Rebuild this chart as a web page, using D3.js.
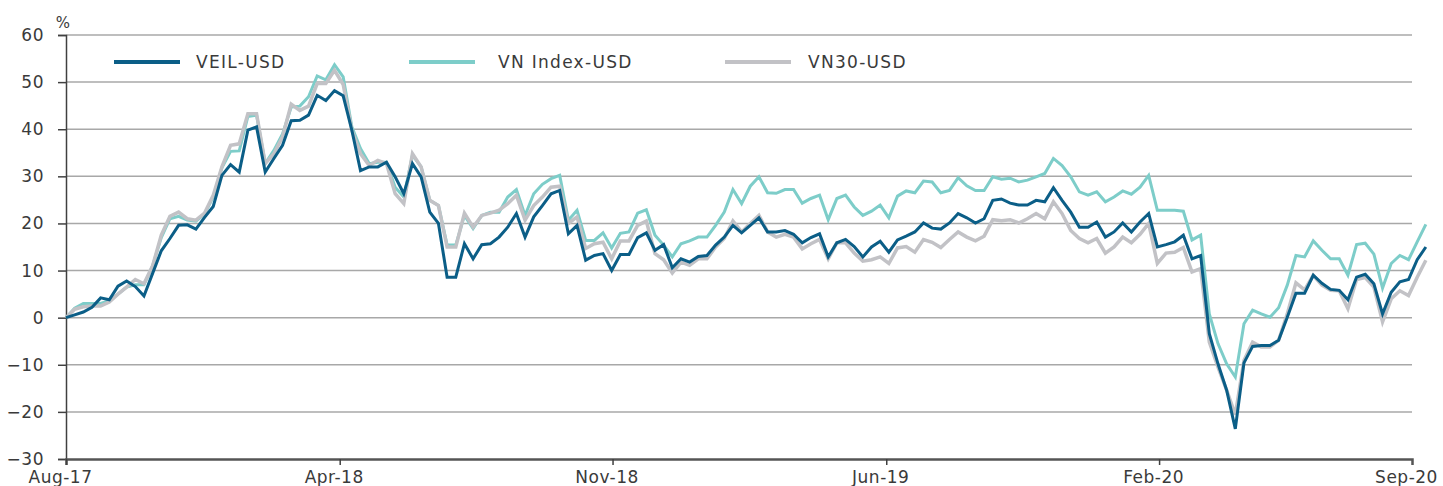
<!DOCTYPE html>
<html>
<head>
  <meta charset="utf-8">
  <script src="https://d3js.org/d3.v7.min.js"></script>
  <style>
    body { margin: 0; background: #fff; }
    text { font-family: "DejaVu Sans", sans-serif; fill: #3a3a3a; }
  </style>
</head>
<body>
  <svg id="chart" width="1443" height="486"></svg>

  <script>
    // weekly cumulative returns, %
    const veil = [
      0, 0.6, 1.2, 2.2, 4.2, 3.8, 6.7, 7.8, 6.6, 4.6,
      9.4, 14.2, 16.8, 19.6, 19.7, 18.8, 21.3, 23.6, 30.2, 32.5,
      30.9, 39.8, 40.5, 30.9, 33.8, 36.6, 41.8, 41.9, 43.0, 47.2,
      46.1, 48.2, 47.1, 39.8, 31.2, 32.0, 32.0, 33.0, 29.9, 26.3,
      32.7, 29.9, 22.4, 20.0, 8.6, 8.6, 15.7, 12.5, 15.5, 15.7,
      17.1, 19.2, 22.1, 17.1, 21.4, 23.8, 26.3, 27.0, 17.8, 19.6,
      12.2, 13.2, 13.6, 10.0, 13.4, 13.4, 17.0, 18.0, 14.3, 15.5,
      10.6, 12.5, 11.8, 13.0, 13.2, 15.4, 17.1, 19.6, 18.0, 19.6,
      21.2, 18.2, 18.2, 18.5, 17.7, 15.9, 17.0, 17.8, 12.9, 15.9,
      16.6, 15.1, 12.9, 15.0, 16.2, 13.9, 16.5, 17.3, 18.2, 20.1,
      19.0, 18.8, 20.1, 22.1, 21.2, 20.1, 21.0, 24.9, 25.2, 24.3,
      23.9, 23.9, 24.9, 24.6, 27.6, 24.9, 22.4, 19.2, 19.2, 20.3,
      17.1, 18.2, 20.1, 18.2, 20.3, 22.1, 15.0, 15.5, 16.1, 17.5,
      12.5, 13.2, -3.4, -9.8, -15.4, -23.6, -9.6, -6.1, -5.9, -5.9,
      -4.8, 0.1, 5.2, 5.2, 9.0, 7.3, 6.0, 5.8, 3.8, 8.6,
      9.2, 7.2, 0.8, 5.4, 7.6, 8.1, 12.3, 15.0
    ];
    const vnIndex = [
      0, 2.0, 3.0, 3.0, 3.0, 3.6, 5.0, 6.5, 7.0, 7.0,
      11.0, 17.0, 21.0, 21.5, 20.7, 20.5, 22.0, 25.6, 31.8, 35.3,
      35.4, 42.7, 43.0, 32.7, 35.5, 39.0, 44.7, 44.9, 46.9, 51.3,
      50.5, 53.7, 51.1, 40.5, 35.9, 32.7, 33.0, 33.0, 27.7, 25.6,
      34.5, 32.0, 24.9, 23.8, 15.4, 15.4, 21.7, 18.9, 21.7, 22.4,
      22.4, 25.6, 27.2, 21.7, 26.3, 28.3, 29.5, 30.2, 20.7, 22.8,
      16.4, 16.4, 18.0, 14.8, 17.9, 18.2, 22.2, 22.9, 17.5, 15.4,
      12.9, 15.7, 16.3, 17.1, 17.1, 19.6, 22.4, 27.2, 24.2, 27.9,
      29.9, 26.5, 26.4, 27.2, 27.2, 24.3, 25.3, 26.0, 20.8, 25.3,
      26.0, 23.5, 21.7, 22.6, 23.9, 21.2, 25.8, 26.9, 26.5, 29.0,
      28.8, 26.5, 27.0, 29.7, 28.0, 27.0, 27.0, 29.9, 29.4, 29.6,
      28.8, 29.2, 29.9, 30.6, 33.8, 32.3, 29.9, 26.7, 26.0, 26.7,
      24.6, 25.6, 26.9, 26.2, 27.7, 30.2, 22.8, 22.8, 22.8, 22.6,
      16.5, 17.5, 0.8, -5.5, -9.8, -12.6, -1.3, 1.6, 0.8, 0.1,
      2.1, 6.9, 13.2, 12.9, 16.3, 14.3, 12.5, 12.5, 9.0, 15.5,
      15.8, 13.5, 6.3, 11.5, 13.2, 12.3, 16.1, 19.8
    ];
    const vn30 = [
      0, 1.8, 2.3, 2.5, 2.5, 3.3, 5.0, 6.5, 8.1, 7.2,
      11.0, 17.5, 21.5, 22.4, 21.0, 20.7, 22.2, 26.0, 32.0, 36.6,
      36.9, 43.3, 43.3, 32.7, 34.8, 38.4, 45.3, 44.0, 44.9, 49.7,
      49.7, 52.5, 49.5, 39.8, 34.8, 32.3, 33.4, 32.7, 26.3, 24.2,
      34.8, 32.0, 24.9, 23.8, 15.0, 15.0, 22.2, 19.2, 21.7, 22.2,
      22.8, 24.2, 26.0, 20.7, 23.8, 25.6, 27.7, 27.9, 20.0, 21.4,
      14.7, 15.7, 16.0, 12.5, 16.3, 16.3, 19.6, 20.5, 13.6, 12.3,
      9.5, 11.8, 11.1, 12.5, 12.5, 15.0, 16.8, 20.5, 18.2, 20.0,
      21.7, 18.2, 17.1, 17.7, 17.1, 14.6, 15.7, 16.6, 12.5, 15.9,
      15.9, 13.7, 12.0, 12.3, 12.9, 11.5, 14.8, 15.1, 13.9, 16.6,
      16.0, 14.9, 16.6, 18.2, 17.1, 16.3, 17.3, 20.8, 20.6, 20.8,
      20.1, 21.0, 22.1, 21.0, 24.6, 22.1, 18.5, 16.8, 15.9, 16.8,
      13.7, 15.0, 17.1, 15.9, 17.7, 20.0, 11.5, 13.7, 13.9, 14.9,
      9.7, 10.4, -5.2, -10.5, -15.4, -20.6, -9.1, -5.2, -6.2, -6.2,
      -4.8, 0.8, 7.4, 5.9, 9.0, 6.9, 5.8, 5.7, 1.9, 8.1,
      8.5, 6.5, -0.9, 4.0, 5.7, 4.7, 8.6, 12.2
    ];

    // x axis: week index where each label sits
    const xTickIdx = [0, 31.6, 63.1, 94.7, 126.2, 155.4];
    const xTickLabels = ["Aug-17", "Apr-18", "Nov-18", "Jun-19", "Feb-20", "Sep-20"];
    const yTicks = [-30, -20, -10, 0, 10, 20, 30, 40, 50, 60];

    const seriesNames = ["VEIL-USD", "VN Index-USD", "VN30-USD"];
    const seriesColors = ["#0b5e87", "#7dcdc9", "#c2c2c6"];

    const width = 1443;
    const height = 486;
    const margin = { top: 35, right: 31, bottom: 27, left: 66 };
    const svg = d3.select("#chart");

    const x = d3.scaleLinear()
      .domain([0, xTickIdx[xTickIdx.length - 1]])
      .range([margin.left, width - margin.right]);
    const y = d3.scaleLinear()
      .domain([-30, 60])
      .range([height - margin.bottom, margin.top]);

    // gridlines
    svg.append("g")
      .selectAll("line")
      .data(yTicks.filter(d => d !== -30))
      .enter()
      .append("line")
      .attr("x1", margin.left)
      .attr("x2", width - margin.right)
      .attr("y1", d => y(d))
      .attr("y2", d => y(d))
      .attr("stroke", "#a8a8a8")
      .attr("stroke-width", 1.5);

    // y axis
    const yAxis = svg.append("g")
      .attr("transform", `translate(${margin.left},0)`)
      .call(d3.axisLeft(y).tickValues(yTicks).tickSize(8).tickPadding(14));
    yAxis.select(".domain").attr("stroke", "#404040").attr("stroke-width", 1.5);
    yAxis.selectAll(".tick line").attr("stroke", "#404040").attr("stroke-width", 1.5);
    yAxis.selectAll("text")
      .style("font-size", "17px")
      .style("letter-spacing", "0.5px")
      .attr("fill", "#3a3a3a");

    svg.append("text")
      .attr("x", 63)
      .attr("y", 28)
      .style("text-anchor", "middle")
      .style("font-size", "15px")
      .text("%");

    // x axis
    const xAxis = svg.append("g")
      .attr("transform", `translate(0,${height - margin.bottom})`)
      .call(d3.axisBottom(x)
        .tickValues(xTickIdx)
        .tickFormat((d, i) => xTickLabels[i])
        .tickSize(6)
        .tickPadding(6));
    xAxis.select(".domain").attr("stroke", "#555").attr("stroke-width", 2.5);
    xAxis.selectAll(".tick line").attr("stroke", "#404040").attr("stroke-width", 1.5);
    xAxis.selectAll(".tick:last-of-type line").remove();
    xAxis.selectAll("text")
      .attr("dx", -6)
      .style("font-size", "17px")
      .style("letter-spacing", "0.5px")
      .attr("fill", "#3a3a3a");

    // lines
    const line = d3.line()
      .x((d, i) => x(i))
      .y(d => y(d));

    const series = [veil, vnIndex, vn30];
    const drawOrder = [1, 2, 0];
    const widths = [3, 3, 3.5];
    drawOrder.forEach(k => {
      svg.append("path")
        .datum(series[k])
        .attr("fill", "none")
        .attr("stroke", seriesColors[k])
        .attr("stroke-width", widths[k])
        .attr("d", line);
    });

    // legend
    const legendX = [114, 409, 725];
    const legendTextX = [196, 498, 808];
    const legend = svg.append("g");
    seriesNames.forEach((name, k) => {
      legend.append("line")
        .attr("x1", legendX[k])
        .attr("x2", legendX[k] + 66)
        .attr("y1", 62)
        .attr("y2", 62)
        .attr("stroke", seriesColors[k])
        .attr("stroke-width", 4);
      legend.append("text")
        .attr("x", legendTextX[k])
        .attr("y", 68)
        .style("font-size", "17px")
        .style("letter-spacing", "1.3px")
        .text(name);
    });
  </script>
</body>
</html>
